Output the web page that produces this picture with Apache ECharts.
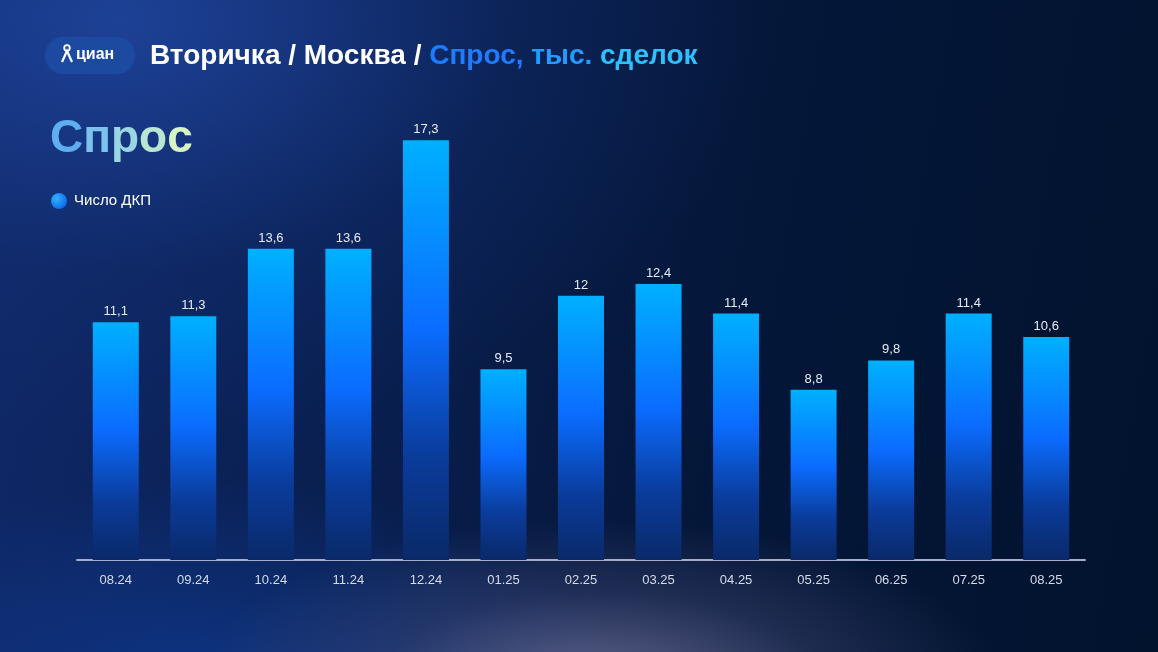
<!DOCTYPE html>
<html>
<head>
<meta charset="utf-8">
<script src="https://cdn.jsdelivr.net/npm/echarts@6/dist/echarts.min.js"></script>
<style>
html,body{margin:0;padding:0;}
#chart{width:1158px;height:652px;
background:
 radial-gradient(ellipse 400px 160px at 600px 680px, rgba(130,130,170,0.7), rgba(80,85,130,0.35) 55%, rgba(0,0,0,0) 100%),
 radial-gradient(ellipse 420px 200px at 200px 680px, rgba(15,60,150,0.7), rgba(0,0,0,0) 100%),
 radial-gradient(ellipse 650px 420px at 120px 20px, rgba(32,70,160,0.85), rgba(20,50,120,0.3) 60%, rgba(0,0,0,0) 100%),
 linear-gradient(100deg, #10296a 0%, #0a2052 30%, #05173a 60%, #01132d 100%);
}
</style>
</head>
<body>
<div id="chart"></div>
<script>
const categories = ['08.24','09.24','10.24','11.24','12.24','01.25','02.25','03.25','04.25','05.25','06.25','07.25','08.25'];
const values = [11.1, 11.3, 13.6, 13.6, 17.3, 9.5, 12, 12.4, 11.4, 8.8, 9.8, 11.4, 10.6];
const seriesName = 'Число ДКП';
const titleWhite = 'Вторичка / Москва / ';
const titleBlueWords = ['Спрос, ', 'тыс. ', 'сделок'];
const heading = 'Спрос';

const FONT = '"Liberation Sans", Arial, sans-serif';
const chart = echarts.init(document.getElementById('chart'), null, {renderer:'canvas'});

const ctx = document.createElement('canvas').getContext('2d');
ctx.font = 'bold 28px ' + FONT;
const whiteW = ctx.measureText(titleWhite).width;

// per-character colours approximating gradient text
const headingColors = ['#5eaef0', '#7cc2ec', '#9ad5e2', '#b8e6d2', '#d6f4c4'];
const headingRich = {};
let headingStr = '';
heading.split('').forEach((ch, i) => {
  headingRich['h' + i] = {fill: headingColors[i % headingColors.length], font: 'bold 46px ' + FONT};
  headingStr += '{h' + i + '|' + ch + '}';
});
const blueColors = ['#1f7bff', '#239cff', '#2cc2ff'];
const blueRich = {};
let blueStr = '';
titleBlueWords.forEach((w, i) => {
  blueRich['b' + i] = {fill: blueColors[i], font: 'bold 28px ' + FONT};
  blueStr += '{b' + i + '|' + w + '}';
});

const option = {
  backgroundColor: 'transparent',
  animation: false,
  grid: {left: 77, right: 73, top: 61, bottom: 92},
  xAxis: {
    type: 'category',
    data: categories,
    axisLine: {show: true, lineStyle: {color: '#a3adc9', width: 2}},
    axisTick: {show: false},
    axisLabel: {color: '#d5dbe8', fontSize: 13, margin: 14, fontFamily: FONT}
  },
  yAxis: {
    type: 'value', min: 3, max: 20, show: false, splitLine: {show: false}
  },
  series: [{
    name: seriesName,
    type: 'bar',
    data: values,
    barWidth: 46,
    itemStyle: {
      color: new echarts.graphic.LinearGradient(0, 0, 0, 1, [
        {offset: 0, color: '#00b0ff'},
        {offset: 0.45, color: '#0b6cff'},
        {offset: 0.75, color: '#0a3c9c'},
        {offset: 1, color: '#0a2968'}
      ])
    },
    label: {
      show: true, position: 'top', distance: 4,
      color: '#e6ebf5', fontSize: 13, fontFamily: FONT,
      formatter: p => String(p.value).replace('.', ',')
    }
  }],
  graphic: [
    {type: 'rect', left: 45, top: 37, shape: {width: 90, height: 37, r: 18}, style: {fill: '#1c4aa0'}},
    {type: 'circle', shape: {cx: 67, cy: 48, r: 2.8}, style: {fill: 'none', stroke: '#ffffff', lineWidth: 1.8}},
    {type: 'polyline', shape: {points: [[62, 62], [67, 51], [72, 62]]}, style: {stroke: '#ffffff', lineWidth: 2.2, fill: 'none'}},
    {type: 'text', left: 76, top: 47, style: {text: 'циан', fill: '#ffffff', font: 'bold 16px ' + FONT}},
    {type: 'text', x: 150, y: 56, style: {text: titleWhite, fill: '#ffffff', font: 'bold 28px ' + FONT, verticalAlign: 'middle'}},
    {type: 'text', x: 150 + whiteW, y: 56, style: {text: blueStr, rich: blueRich, fill: '#1f9cff', font: 'bold 28px ' + FONT, verticalAlign: 'middle'}},
    {type: 'text', x: 50, y: 139, style: {text: headingStr, rich: headingRich, fill: '#8ccce8', font: 'bold 46px ' + FONT, verticalAlign: 'middle'}},
    {type: 'circle', shape: {cx: 59, cy: 201, r: 8},
      style: {fill: new echarts.graphic.RadialGradient(0.35, 0.35, 0.8, [{offset: 0, color: '#2fb4ff'}, {offset: 1, color: '#0a5ee8'}])}},
    {type: 'text', x: 74, y: 201, style: {text: seriesName, fill: '#ffffff', font: '15px ' + FONT, verticalAlign: 'middle'}}
  ]
};
chart.setOption(option);
</script>
</body>
</html>
